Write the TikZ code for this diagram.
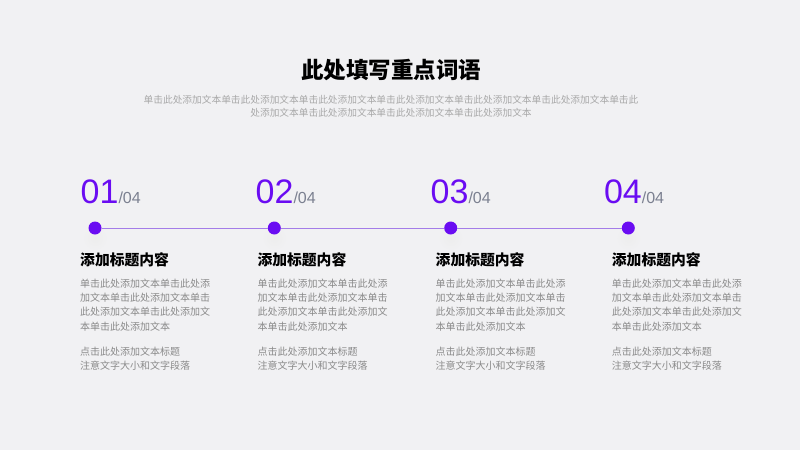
\documentclass[tikz,border=0pt]{standalone}
\usepackage{fontspec}
\setmainfont{Noto Sans CJK SC}
\newfontfamily\numfont{Liberation Sans}
\usetikzlibrary{positioning}
\definecolor{bggray}{HTML}{F1F1F3}
\definecolor{markpurple}{HTML}{6A0CF2}
\definecolor{linepurple}{HTML}{A47DE8}
\definecolor{subgray}{HTML}{A8A8A8}
\definecolor{bodygray}{HTML}{8A8A8A}
\definecolor{slashgray}{HTML}{7B8090}
\newcommand{\blurb}{单击此处添加文本单击此处添\\加文本单击此处添加文本单击\\此处添加文本单击此处添加文\\本单击此处添加文本}
\newcommand{\hint}{点击此处添加文本标题\\注意文字大小和文字段落}
\tikzset{
  dot/.style={circle,fill=markpurple,inner sep=0pt,minimum size=13pt},
  stepnum/.style={anchor=base west,inner sep=0pt,text=markpurple,font=\numfont\fontsize{34}{34}\selectfont},
  stephead/.style={anchor=west,inner sep=0pt,font=\bfseries\fontsize{14.8}{16}\selectfont},
  steptext/.style={anchor=north west,inner sep=0pt,align=left,text=bodygray,font=\fontsize{10}{14.4}\selectfont}
}

\begin{document}
\begin{tikzpicture}[x=1pt,y=-1pt]
  \fill[bggray] (0,0) rectangle (800,450);
  \useasboundingbox (0,0) rectangle (800,450);
  \node[font=\bfseries\fontsize{22.5}{24}\selectfont] (title) at (391,70) {此处填写重点词语};
  \node[align=center,text=subgray,font=\fontsize{9.7}{13.4}\selectfont] (sub) at (391,106)
    {单击此处添加文本单击此处添加文本单击此处添加文本单击此处添加文本单击此处添加文本单击此处添加文本单击此\\处添加文本单击此处添加文本单击此处添加文本单击此处添加文本};
  \foreach \i/\nx/\dx/\tx in {1/80.5/95/80,2/255.5/274.3/257.3,3/430.5/450.7/435.5,4/603.8/628.3/611.7}{
    \shade[inner color=black!7,outer color=bggray] (\dx,238) circle (13);
    \node[stepnum] (num\i) at (\nx,203.5) {0\i{\color{slashgray}\fontsize{16}{16}\selectfont/04}};
    \node[dot] (dot\i) at (\dx,228) {};
    \node[stephead] (head\i) at (\tx,260) {添加标题内容};
    \node[steptext] (body\i) at (\tx,278.5) {\blurb};
    \node[steptext] (note\i) at (\tx,346.8) {\hint};
  }
  \draw[linepurple,line width=0.9pt] (dot1) -- (dot2) (dot2) -- (dot3) (dot3) -- (dot4);
\end{tikzpicture}
\end{document}
